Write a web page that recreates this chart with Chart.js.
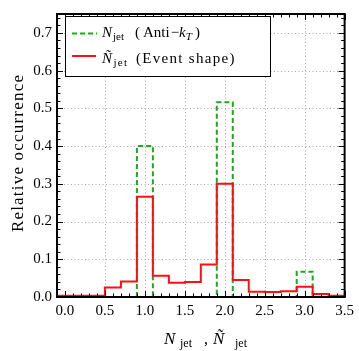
<!DOCTYPE html>
<html>
<head>
<meta charset="utf-8">
<script src="https://cdn.jsdelivr.net/npm/chart.js@4.4.1/dist/chart.umd.min.js"></script>
<style>
  html, body { margin: 0; padding: 0; background: #fff; }
  #wrap { width: 359px; height: 351px; }
</style>
</head>
<body>
<div id="wrap"><canvas id="histChart" width="359" height="351"></canvas></div>
<script>
// histogram bins (centres), width 0.2
const binCenters = [0.0, 0.2, 0.4, 0.6, 0.8, 1.0, 1.2, 1.4, 1.6, 1.8, 2.0, 2.2, 2.4, 2.6, 2.8, 3.0, 3.2, 3.4]
const binWidth = 0.2
const antiKtValues = [0, 0, 0, 0, 0, 0.400, 0, 0, 0, 0, 0.516, 0, 0, 0, 0, 0.067, 0, 0]
const eventShapeValues = [0.003, 0.003, 0.003, 0.025, 0.041, 0.266, 0.056, 0.038, 0.040, 0.086, 0.300, 0.045, 0.014, 0.013, 0.015, 0.027, 0.008, 0.003]
const xTickValues = [0.0, 0.5, 1.0, 1.5, 2.0, 2.5, 3.0, 3.5]
const yTickValues = [0.0, 0.1, 0.2, 0.3, 0.4, 0.5, 0.6, 0.7]
const xRange = [-0.1, 3.5]
const yRange = [0, 0.75]

const SERIF = '"Liberation Serif", "DejaVu Serif", serif'
const GREEN = '#1aab1a'
const RED = '#ff1010'

// turn bin values into left/right edge points so the line draws as steps
function stepPoints(values) {
  const pts = []
  binCenters.forEach((c, i) => {
    pts.push({ x: +(c - binWidth / 2).toFixed(3), y: values[i] })
    pts.push({ x: +(c + binWidth / 2).toFixed(3), y: values[i] })
  })
  return pts
}

function drawRun(ctx, x, y, parts) {
  parts.forEach(p => {
    ctx.font = p.font
    if (p.at !== undefined) x = p.at
    ctx.fillText(p.text, x, y + (p.dy || 0))
    x += ctx.measureText(p.text).width + (p.gap || 0)
  })
}

const framePlugin = {
  id: 'framePlugin',
  beforeDatasetsDraw(chart) {
    const { ctx, chartArea: a, scales: { x, y } } = chart
    ctx.save()
    ctx.strokeStyle = '#a8a8a8'
    ctx.lineWidth = 1
    ctx.setLineDash([1, 2.5])
    xTickValues.forEach(v => {
      if (v <= 0 || v >= xRange[1]) return
      const px = Math.round(x.getPixelForValue(v)) + 0.5
      ctx.beginPath(); ctx.moveTo(px, a.top); ctx.lineTo(px, a.bottom); ctx.stroke()
    })
    yTickValues.forEach(v => {
      if (v <= 0) return
      const py = Math.round(y.getPixelForValue(v)) + 0.5
      ctx.beginPath(); ctx.moveTo(a.left, py); ctx.lineTo(a.right, py); ctx.stroke()
    })
    ctx.restore()
  },
  afterDatasetsDraw(chart) {
    const { ctx, chartArea: a, scales: { x, y } } = chart
    ctx.save()
    // inward frame ticks on all four sides
    ctx.strokeStyle = '#000'
    ctx.lineWidth = 1
    for (let i = 0; i <= 36; i++) {
      const v = xRange[0] + i * 0.1
      const major = xTickValues.some(t => Math.abs(t - v) < 1e-6)
      const len = major ? 6 : 3.5
      const px = Math.round(x.getPixelForValue(v)) + 0.5
      ctx.beginPath()
      ctx.moveTo(px, a.bottom); ctx.lineTo(px, a.bottom - len)
      ctx.moveTo(px, a.top); ctx.lineTo(px, a.top + len)
      ctx.stroke()
    }
    for (let i = 0; i <= 37; i++) {
      const v = i * 0.02
      const major = yTickValues.some(t => Math.abs(t - v) < 1e-6)
      const len = major ? 6 : 3.5
      const py = Math.round(y.getPixelForValue(v)) + 0.5
      ctx.beginPath()
      ctx.moveTo(a.left, py); ctx.lineTo(a.left + len, py)
      ctx.moveTo(a.right, py); ctx.lineTo(a.right - len, py)
      ctx.stroke()
    }
    ctx.lineWidth = 2
    ctx.strokeRect(a.left, a.top, a.right - a.left, a.bottom - a.top)

    // legend box
    ctx.fillStyle = '#fff'
    ctx.fillRect(65, 16, 205, 60)
    ctx.lineWidth = 1
    ctx.strokeStyle = '#000'
    ctx.strokeRect(65.5, 16.5, 205, 60)
    ctx.lineWidth = 2
    ctx.strokeStyle = GREEN
    ctx.setLineDash([5, 3])
    ctx.beginPath(); ctx.moveTo(72, 33.5); ctx.lineTo(97, 33.5); ctx.stroke()
    ctx.setLineDash([])
    ctx.strokeStyle = RED
    ctx.beginPath(); ctx.moveTo(72, 56); ctx.lineTo(96, 56); ctx.stroke()

    ctx.fillStyle = '#000'
    ctx.textBaseline = 'alphabetic'
    ctx.textAlign = 'left'
    const big = '15px ' + SERIF
    const bigIt = 'italic 15px ' + SERIF
    const sub = '11px ' + SERIF
    const subIt = 'italic 11px ' + SERIF
    drawRun(ctx, 102, 37, [
      { text: 'N', font: bigIt },
      { text: 'jet', font: sub, dy: 3, at: 113 },
      { text: '(', font: big, at: 135, gap: 3 },
      { text: 'Anti', font: big, gap: 1 },
      { text: '\u2212', font: big },
      { text: 'k', font: bigIt },
      { text: 'T', font: subIt, dy: 3, gap: 3 },
      { text: ')', font: big }
    ])
    ctx.letterSpacing = '1.3px'
    drawRun(ctx, 102, 63, [
      { text: '\u00d1', font: bigIt },
      { text: 'jet', font: sub, dy: 3, at: 113.5 },
      { text: '(Event shape)', font: big, at: 136 }
    ])
    ctx.letterSpacing = '0px'

    // axis titles
    drawRun(ctx, 164, 344, [
      { text: 'N', font: 'italic 17px ' + SERIF },
      { text: 'jet', font: '12px ' + SERIF, dy: 3, at: 180 },
      { text: ',', font: '16px ' + SERIF, at: 204 },
      { text: '\u00d1', font: 'italic 17px ' + SERIF, at: 213 },
      { text: 'jet', font: '12px ' + SERIF, dy: 3, at: 235 }
    ])
    ctx.translate(23, 153)
    ctx.rotate(-Math.PI / 2)
    ctx.textAlign = 'center'
    ctx.letterSpacing = '1.2px'
    ctx.font = '17px ' + SERIF
    ctx.fillText('Relative occurrence', 0, 0)
    ctx.restore()
  }
}

Chart.defaults.color = '#000'
Chart.defaults.font.family = SERIF

new Chart(document.getElementById('histChart'), {
  type: 'line',
  data: {
    datasets: [
      {
        label: 'Ñ jet (Event shape)',
        data: stepPoints(eventShapeValues),
        borderColor: RED,
        borderWidth: 2,
        pointRadius: 0,
        fill: false,
        tension: 0
      },
      {
        label: 'N jet (Anti-kT)',
        data: stepPoints(antiKtValues),
        borderColor: GREEN,
        borderWidth: 2,
        borderDash: [5, 3],
        pointRadius: 0,
        fill: false,
        tension: 0
      }
    ]
  },
  options: {
    responsive: false,
    animation: false,
    layout: { padding: { left: 0, right: 11, top: 6, bottom: 0 } },
    plugins: { legend: { display: false }, tooltip: { enabled: false } },
    scales: {
      x: {
        type: 'linear',
        min: xRange[0],
        max: xRange[1],
        afterBuildTicks: (scale) => { scale.ticks = xTickValues.map(v => ({ value: v })) },
        afterFit: (scale) => { scale.height = 54 },
        grid: { display: false, drawTicks: false },
        border: { display: false },
        ticks: { padding: 5, maxRotation: 0, font: { size: 15 }, callback: (v) => Number(v).toFixed(1) }
      },
      y: {
        min: yRange[0],
        max: yRange[1],
        afterBuildTicks: (scale) => { scale.ticks = yTickValues.map(v => ({ value: v })) },
        afterFit: (scale) => { scale.width = 57 },
        grid: { display: false, drawTicks: false },
        border: { display: false },
        ticks: { padding: 5, font: { size: 15 }, callback: (v) => Number(v).toFixed(1) }
      }
    }
  },
  plugins: [framePlugin]
})
</script>
</body>
</html>
